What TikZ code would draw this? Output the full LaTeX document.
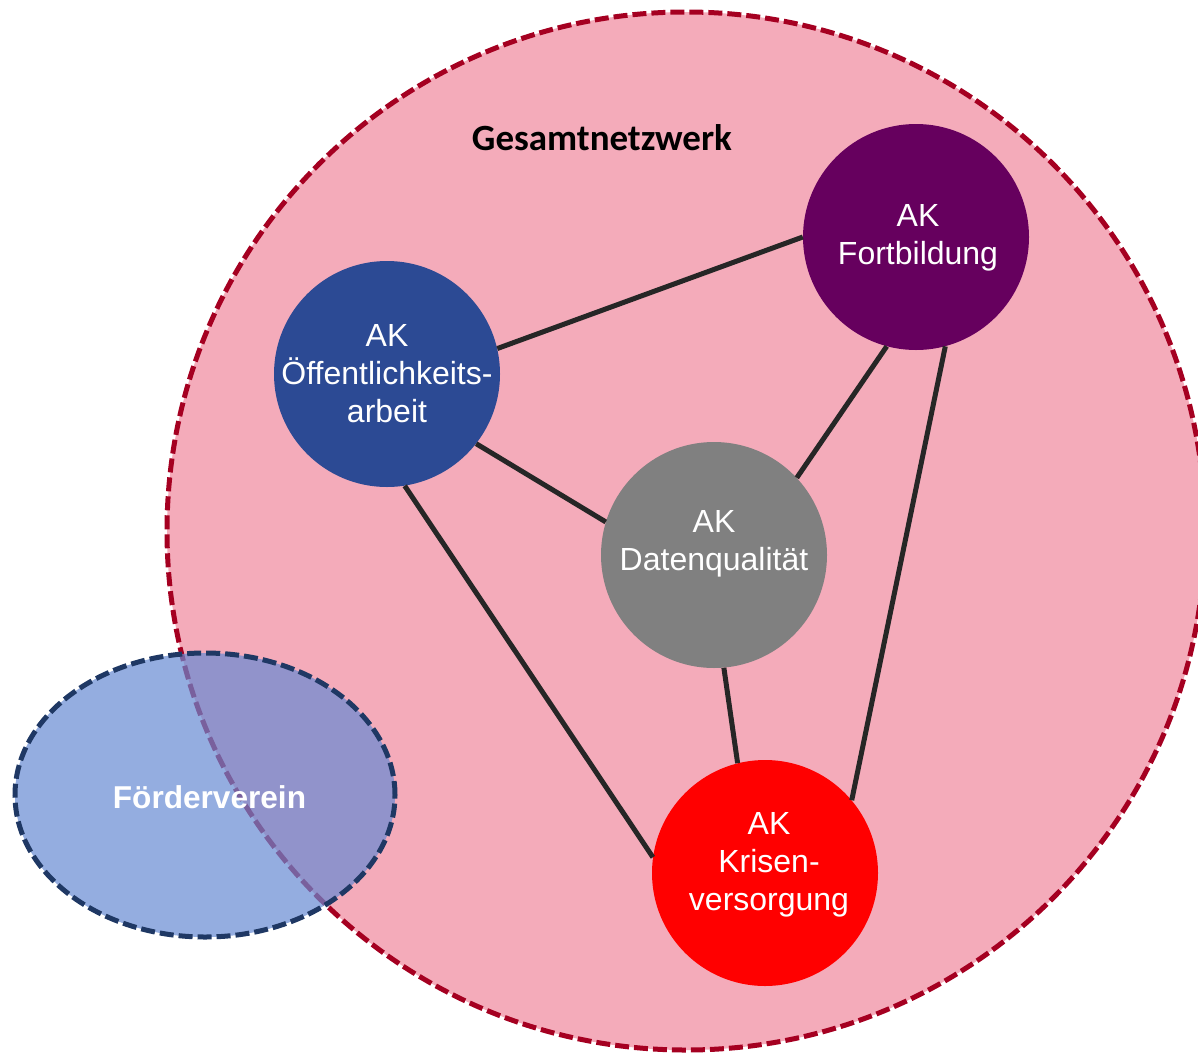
\documentclass[tikz,border=0pt]{standalone}
\usepackage{fontspec}
\setmainfont{Liberation Sans}
\newfontfamily\calib{Carlito}
\usetikzlibrary{shapes.geometric}
\definecolor{pinkf}{RGB}{244,171,186}
\definecolor{netzc}{RGB}{165,0,33}
\definecolor{foerderf}{RGB}{103,138,211}
\definecolor{foerderc}{RGB}{31,56,100}
\definecolor{oeffc}{RGB}{44,74,148}
\definecolor{fortc}{RGB}{102,0,94}
\definecolor{datenc}{RGB}{128,128,128}
\definecolor{krisc}{RGB}{255,0,0}
\definecolor{linec}{RGB}{38,38,38}
\begin{document}
\begin{tikzpicture}[x=1pt,y=-1pt,
  ak/.style={circle, minimum size=226pt, inner sep=0pt},
  aktext/.style={text=white, font=\fontsize{32}{38}\selectfont, align=center, inner sep=0pt},
  link/.style={line width=5pt, draw=linec},
  dashline/.style={line width=5pt, dash pattern=on 14pt off 5pt}]
\useasboundingbox (0,0) rectangle (1198,1055);
\clip (0,0) rectangle (1198,1055);
\node[circle, minimum size=1038pt, inner sep=0pt, fill=pinkf, draw=netzc, dashline] (netz) at (686,531) {};
\node[font=\calib\bfseries\fontsize{37}{40}\selectfont, inner sep=0pt] (netz-t) at (602,138) {Gesamtnetzwerk};

\node[ak, fill=oeffc] (oeff) at (387,374) {};
\node[ak, fill=fortc] (fort) at (916,237) {};
\node[ak, fill=datenc] (daten) at (714,555) {};
\node[ak, fill=krisc] (kris) at (765,873) {};

\draw[link] (oeff.13.8) -- (fort.180);
\draw[link] (oeff.-38.5) -- (daten.163.5);
\draw[link] (oeff.-81) -- (kris.172);
\draw[link] (fort.-105) -- (daten.43.6);
\draw[link] (fort.-75.6) -- (kris.40.7);
\draw[link] (daten.-85) -- (kris.104);

\node[aktext] (oeff-t) at (387,374) {AK\\Öffentlichkeits-\\arbeit};
\node[aktext] (fort-t) at (918,238) {AK\\Fortbildung};
\node[aktext] (daten-t) at (714,544) {AK\\Datenqualität};
\node[aktext] (kris-t) at (769,865) {AK\\Krisen-\\versorgung};

\node[ellipse, minimum width=380pt, minimum height=284pt, inner sep=0pt, fill=foerderf, fill opacity=0.7, draw=foerderc, dashline] (foerder) at (205,795) {};
\node[text=white, font=\bfseries\fontsize{31.6}{36}\selectfont, inner sep=0pt] (foerder-t) at (209.5,797) {Förderverein};
\end{tikzpicture}
\end{document}
